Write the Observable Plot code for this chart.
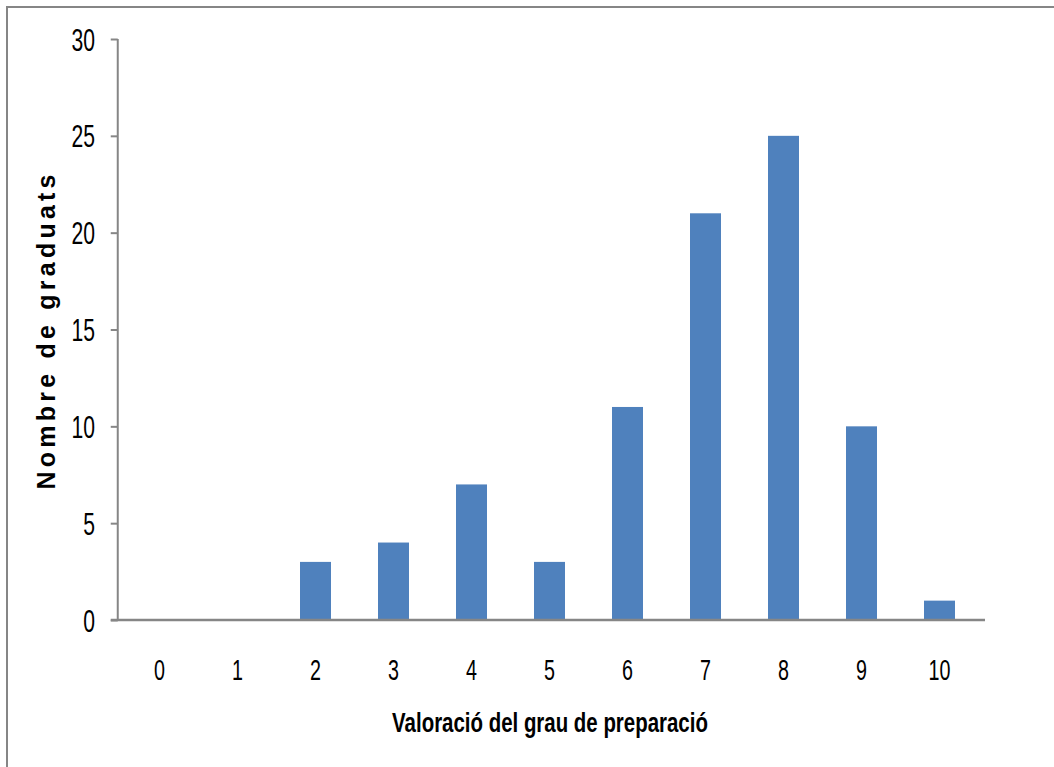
<!DOCTYPE html>
<html>
<head>
<meta charset="utf-8">
<script src="https://cdn.jsdelivr.net/npm/d3@7"></script>
<script src="https://cdn.jsdelivr.net/npm/@observablehq/plot@0.6"></script>
<style>
  html, body { margin: 0; padding: 0; background: #fff; }
  #wrap { position: relative; width: 1054px; height: 767px; overflow: hidden; }
  #border { position: absolute; left: 6px; top: 6px; width: 1100px; height: 800px; border: 2px solid #868686; box-sizing: border-box; }
  #chart { position: absolute; left: 0; top: 0; }
  svg text { font-family: "Liberation Sans", Arial, sans-serif; fill: #000; }
</style>
</head>
<body>
<div id="wrap"><div id="border"></div><div id="chart"></div></div>
<script>
const categories = ["0", "1", "2", "3", "4", "5", "6", "7", "8", "9", "10"];
const counts = [0, 0, 3, 4, 7, 3, 11, 21, 25, 10, 1];
const yTicks = [0, 5, 10, 15, 20, 25, 30];
const xLabel = "Valoració del grau de preparació";
const yLabel = "Nombre de graduats";

const data = categories.map((c, i) => ({cat: c, n: counts[i]}));

const chart = Plot.plot({
  width: 1054,
  height: 767,
  marginLeft: 117.75,
  marginRight: 73,
  marginTop: 39,
  marginBottom: 147,
  style: {background: "transparent", color: "#000"},
  x: {domain: categories, paddingInner: 0.6, paddingOuter: 0.3, align: 0.5, label: null, axis: null},
  y: {domain: [0, 30], label: null},
  marks: [
    Plot.barY(data, {x: "cat", y: "n", fill: "#4F81BD"}),
    Plot.axisY({ticks: yTicks, tickSize: 7, stroke: "#868686", strokeWidth: 2, tickFormat: () => "", label: null}),
  ]
});
document.getElementById("chart").appendChild(chart);

const svg = d3.select(chart);
const xs = chart.scale("x"), ys = chart.scale("y");
const xLeft = 117.75, xRight = 1054 - 73;

// axis lines
svg.append("line").attr("x1", xLeft).attr("x2", xLeft).attr("y1", ys.apply(30)).attr("y2", ys.apply(0)).attr("stroke", "#868686").attr("stroke-width", 2);
svg.append("line").attr("x1", xLeft - 7).attr("x2", xRight + 4).attr("y1", ys.apply(0)).attr("y2", ys.apply(0)).attr("stroke", "#868686").attr("stroke-width", 2.5);

// y tick labels
const yl = svg.append("g");
yTicks.forEach(v => {
  yl.append("text").attr("transform", `translate(95,${ys.apply(v)}) scale(0.66,1)`)
    .attr("text-anchor", "end").attr("dy", "0.36em").style("font-size", "32px").text(String(v));
});
// x tick labels
const bw = xs.bandwidth;
const xl2 = svg.append("g");
categories.forEach(c => {
  xl2.append("text").attr("transform", `translate(${xs.apply(c) + bw / 2},670) scale(0.68,1)`)
    .attr("text-anchor", "middle").attr("dy", "0.36em").style("font-size", "29px").text(c);
});

const xl = svg.append("text").attr("transform", "translate(550,732)").attr("text-anchor", "middle")
  .style("font-size", "28px").attr("font-weight", "bold").text(xLabel);
const xw = xl.node().getComputedTextLength();
xl.attr("transform", `translate(550,732) scale(${316 / xw},1)`);

svg.append("text").attr("transform", `translate(55,332) rotate(-90)`).attr("text-anchor", "middle")
  .style("font-size", "25px").attr("font-weight", "bold")
  .attr("textLength", 315).attr("lengthAdjust", "spacing").text(yLabel);
</script>
</body>
</html>
